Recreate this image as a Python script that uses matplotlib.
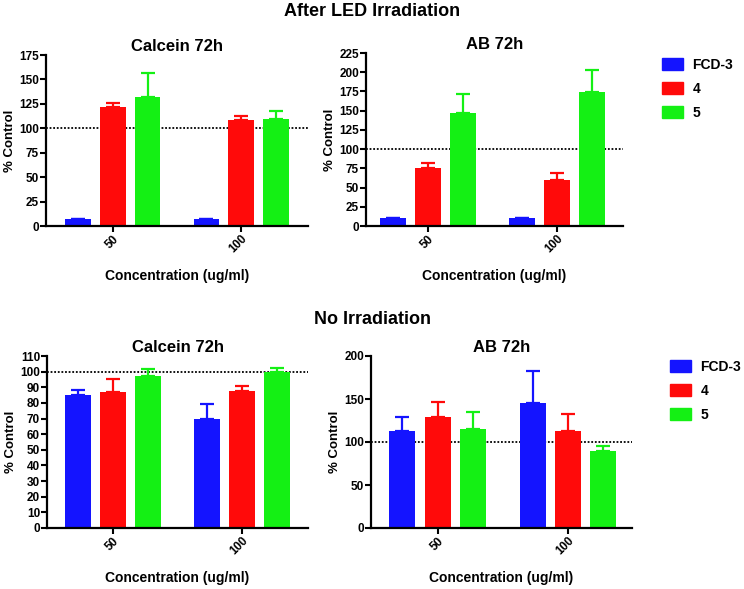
import matplotlib
matplotlib.use("Agg")
import matplotlib.pyplot as plt
import numpy as np
from matplotlib.patches import Patch

plt.rcParams['font.family'] = ['Liberation Sans', 'DejaVu Sans']
plt.rcParams['font.weight'] = 'bold'

concentrations = ["50", "100"]
series = ["FCD-3", "4", "5"]
colors = ["#1414ff", "#ff0a0a", "#14f014"]

# After LED irradiation
led_calcein_mean = {"FCD-3": [7, 7], "4": [122, 108], "5": [132, 110]}
led_calcein_err = {"FCD-3": [0, 0], "4": [4, 5], "5": [25, 8]}
led_ab_mean = {"FCD-3": [10, 10], "4": [75, 60], "5": [147, 174]}
led_ab_err = {"FCD-3": [1, 1], "4": [7, 9], "5": [25, 29]}

# No irradiation
no_calcein_mean = {"FCD-3": [85, 70], "4": [87, 87.5], "5": [97.5, 99.5]}
no_calcein_err = {"FCD-3": [3.5, 9.5], "4": [8, 3.5], "5": [4, 3]}
no_ab_mean = {"FCD-3": [113, 145], "4": [129, 113], "5": [115, 89.5]}
no_ab_err = {"FCD-3": [16, 38], "4": [18, 19], "5": [20, 5.5]}

W, H = 744, 589
fig = plt.figure(figsize=(W / 100, H / 100), dpi=100)


def px_axes(x0, x1, ytop, ybot):
    return fig.add_axes([x0 / W, 1 - ybot / H, (x1 - x0) / W, (ybot - ytop) / H])


def draw(ax, means, errs, ymax, ystep, title, xlim):
    x = np.arange(len(concentrations))
    off = 0.271
    width = 0.2
    ax.axhline(100, color="black", ls=(0, (1, 1)), lw=1.3, zorder=0)
    for i, s in enumerate(series):
        xs = x + (i - 1) * off
        ax.bar(xs, means[s], width=width, color=colors[i], zorder=2)
        ax.errorbar(xs, means[s], yerr=[np.zeros(len(x)), errs[s]], fmt="none",
                    ecolor=colors[i], elinewidth=1.6, capsize=5, capthick=1.6, zorder=1.5)
    ax.set_xlim(*xlim)
    ax.set_ylim(0, ymax)
    ax.set_yticks(np.arange(0, ymax + 0.1, ystep))
    ax.set_xticks(x)
    ax.set_xticklabels(concentrations, rotation=45, ha="right", va="top",
                       rotation_mode="anchor", fontsize=8.5, fontweight="bold")
    for lab in ax.get_yticklabels():
        lab.set_fontsize(8.5)
        lab.set_fontweight("bold")
    for sp in ["top", "right"]:
        ax.spines[sp].set_visible(False)
    for sp in ["left", "bottom"]:
        ax.spines[sp].set_linewidth(1.6)
    ax.tick_params(width=1.5, length=4, pad=1)
    ax.set_title(title, fontsize=12, fontweight="bold", pad=3)
    ax.set_ylabel("% Control", fontsize=9.5, fontweight="bold", labelpad=2)
    ax.set_xlabel("Concentration (ug/ml)", fontsize=10, fontweight="bold", labelpad=10)


ax1 = px_axes(46, 308, 55, 226)
draw(ax1, led_calcein_mean, led_calcein_err, 175, 25, "Calcein 72h", (-0.52, 1.52))
ax2 = px_axes(366, 623, 53, 226)
draw(ax2, led_ab_mean, led_ab_err, 225, 25, "AB 72h", (-0.48, 1.51))
ax3 = px_axes(47, 308, 356, 528)
draw(ax3, no_calcein_mean, no_calcein_err, 110, 10, "Calcein 72h", (-0.51, 1.51))
ax4 = px_axes(371, 632, 356, 528)
draw(ax4, no_ab_mean, no_ab_err, 200, 50, "AB 72h", (-0.51, 1.49))

fig.text(0.5, 1 - 12 / H, "After LED Irradiation", ha="center", va="center",
         fontsize=13, fontweight="bold")
fig.text(0.5, 1 - 320 / H, "No Irradiation", ha="center", va="center",
         fontsize=13, fontweight="bold")

handles = [Patch(facecolor=c, edgecolor=c) for c in colors]
for (lx, ly) in [(662, 58), (670, 360)]:
    fig.legend(handles, series, loc="upper left", bbox_to_anchor=(lx / W, 1 - ly / H),
               frameon=False, borderpad=0, borderaxespad=0, handlelength=1.5,
               handleheight=1.0, handletextpad=0.7, labelspacing=0.72,
               prop={"size": 10, "weight": "bold"})

fig.savefig("out.png", dpi=100)
